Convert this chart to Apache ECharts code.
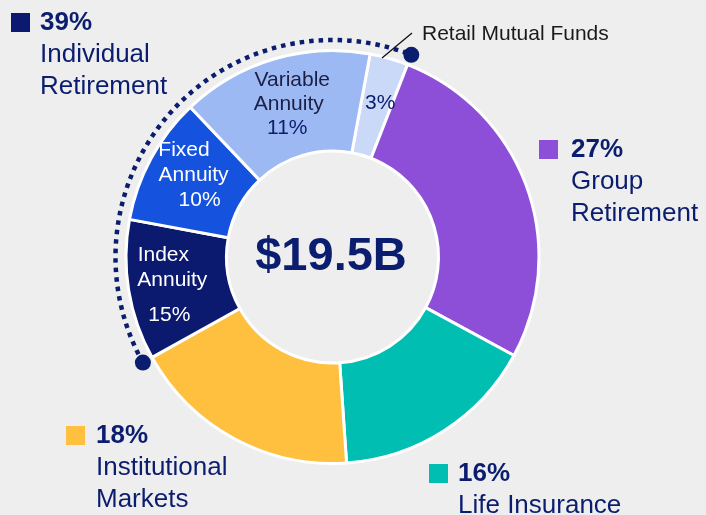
<!DOCTYPE html>
<html><head><meta charset="utf-8">
<script src="https://cdn.jsdelivr.net/npm/echarts@6/dist/echarts.min.js"></script>
<style>html,body{margin:0;padding:0;background:#eeeeee;}#chart{width:706px;height:515px;}</style>
</head><body><div id="chart"></div>
<script>
// ---- data ----
const segmentNames = ['Retail Mutual Funds', 'Group Retirement', 'Life Insurance', 'Institutional Markets', 'Index Annuity', 'Fixed Annuity', 'Variable Annuity'];
// slice sizes as drawn in the picture
const segmentValues = [3, 27, 16, 18, 11, 10, 15];
// percentage text as printed on the slices
const segmentPctText = ['3%', '27%', '16%', '18%', '15%', '10%', '11%'];
const segmentLabelLines = [[], [], [], [], ['Index', 'Annuity'], ['Fixed', 'Annuity'], ['Variable', 'Annuity']];
const groupNames = [['Individual', 'Retirement'], ['Group', 'Retirement'], ['Institutional', 'Markets'], ['Life Insurance']];
const groupValues = [39, 27, 18, 16];
const calloutText = 'Retail Mutual Funds';
const totalLabel = '$19.5B';

// ---- styles ----
const NAVY = '#0b1d6e';
const segmentColors = ['#cad9f7', '#8e4fd8', '#00bfb2', '#ffbf3f', '#0b1a6e', '#1553de', '#9db9f4'];
const groupColors = ['#0b1a70', '#8e4fd8', '#ffbf3f', '#00bfb2'];
const FONT = '"Liberation Sans", Arial, sans-serif';
const CX = 332.5, CY = 257, R0 = 106, R1 = 206.5, START = 79.5;
const labelStyle = {
  0: { dx: 4, dy: -1, nameColor: NAVY, pctColor: NAVY, pads: [], pctPad: [0,0,0,0], pctLH: 24 },
  4: { dx: -3, dy: 7, nameColor: '#ffffff', pctColor: '#ffffff', pads: [[0,18,0,0],[0,0,0,0]], pctPad: [0,6,0,0], pctLH: 45, nameLH: 25 },
  5: { dx: 1, dy: -6, nameColor: '#ffffff', pctColor: '#ffffff', pads: [[0,19,0,0],[0,0,0,0]], pctPad: [0,0,0,12], pctLH: 24, nameLH: 25 },
  6: { dx: 5, dy: 0, nameColor: '#1b1f45', pctColor: NAVY, pads: [[0,0,0,0],[0,7,0,0]], pctPad: [0,10,0,0], pctLH: 24, nameLH: 24 }
};
const groupBlocks = [
  { sq: [11, 13], tx: [40, 7] },
  { sq: [539, 140], tx: [571, 134] },
  { sq: [66, 426], tx: [96, 420] },
  { sq: [429, 464], tx: [458, 458] }
];

const total = segmentValues.reduce((a, b) => a + b, 0);
function canvasAngle(cum) { return (-START + cum / total * 360) * Math.PI / 180; }

const pieData = segmentNames.map((name, i) => {
  const ls = labelStyle[i];
  const item = { name, value: segmentValues[i], itemStyle: { color: segmentColors[i] } };
  if (!ls) { item.label = { show: false }; return item; }
  const rich = { p: { fontSize: 21, fontFamily: FONT, color: ls.pctColor, lineHeight: ls.pctLH, padding: ls.pctPad } };
  const parts = [];
  segmentLabelLines[i].forEach((t, k) => {
    rich['n' + k] = { fontSize: 21, fontFamily: FONT, color: ls.nameColor, lineHeight: ls.nameLH, padding: ls.pads[k] };
    parts.push('{n' + k + '|' + t + '}');
  });
  parts.push('{p|' + segmentPctText[i] + '}');
  item.label = { show: true, position: 'inside', formatter: parts.join('\n'), rich };
  return item;
});

// dotted arc spanning the Individual Retirement members (Index, Fixed, Variable, Retail)
let cum = 0; const starts = {};
segmentNames.forEach((n, i) => { starts[n] = cum; cum += segmentValues[i]; });
const idxStart = starts['Index Annuity'];
const retailEnd = starts['Retail Mutual Funds'] + segmentValues[0] + total;
const a0 = canvasAngle(idxStart), a1 = canvasAngle(retailEnd);
const RA = 217;

const graphics = [
  { type: 'arc', shape: { cx: CX, cy: CY, r: RA, startAngle: a0, endAngle: a1, clockwise: true }, style: { stroke: NAVY, fill: null, lineWidth: 4.5, lineDash: [4.5, 5] }, z: 10 },
  { type: 'circle', shape: { cx: CX + RA * Math.cos(a0), cy: CY + RA * Math.sin(a0), r: 8 }, style: { fill: NAVY }, z: 11 },
  { type: 'circle', shape: { cx: CX + RA * Math.cos(a1), cy: CY + RA * Math.sin(a1), r: 8 }, style: { fill: NAVY }, z: 11 },
  { type: 'line', shape: { x1: 382, y1: 58, x2: 412, y2: 33 }, style: { stroke: '#111111', lineWidth: 1.3 }, z: 12 },
  { type: 'text', x: 422, y: 34, style: { text: calloutText, font: '21px ' + FONT, fill: '#1a1a1a', verticalAlign: 'middle', align: 'left' }, z: 12 },
  { type: 'text', x: 331, y: 257, style: { text: totalLabel, font: 'bold 47px ' + FONT, fill: NAVY, verticalAlign: 'middle', align: 'center' }, z: 12 }
];
groupNames.forEach((lines, i) => {
  const b = groupBlocks[i];
  graphics.push({ type: 'rect', shape: { x: b.sq[0], y: b.sq[1], width: 19, height: 19 }, style: { fill: groupColors[i] }, z: 12 });
  graphics.push({ type: 'text', x: b.tx[0], y: b.tx[1], style: {
    text: '{p|' + groupValues[i] + '%}\n' + lines.map(t => '{n|' + t + '}').join('\n'),
    verticalAlign: 'top', align: 'left',
    rich: {
      p: { fontSize: 26, fontWeight: 'bold', fontFamily: FONT, fill: NAVY, lineHeight: 32 },
      n: { fontSize: 26, fontFamily: FONT, fill: NAVY, lineHeight: 32 }
    }
  }, z: 12 });
});

const chart = echarts.init(document.getElementById('chart'), null, { renderer: 'canvas' });
chart.setOption({
  backgroundColor: '#eeeeee',
  animation: false,
  series: [{
    type: 'pie',
    center: [CX, CY],
    radius: [R0, R1],
    startAngle: START,
    clockwise: true,
    avoidLabelOverlap: false,
    silent: true,
    itemStyle: { borderColor: '#ffffff', borderWidth: 3 },
    labelLine: { show: false },
    labelLayout: function (p) { const s = labelStyle[p.dataIndex]; return s ? { dx: s.dx, dy: s.dy } : {}; },
    data: pieData
  }],
  graphic: graphics
});
</script></body></html>
